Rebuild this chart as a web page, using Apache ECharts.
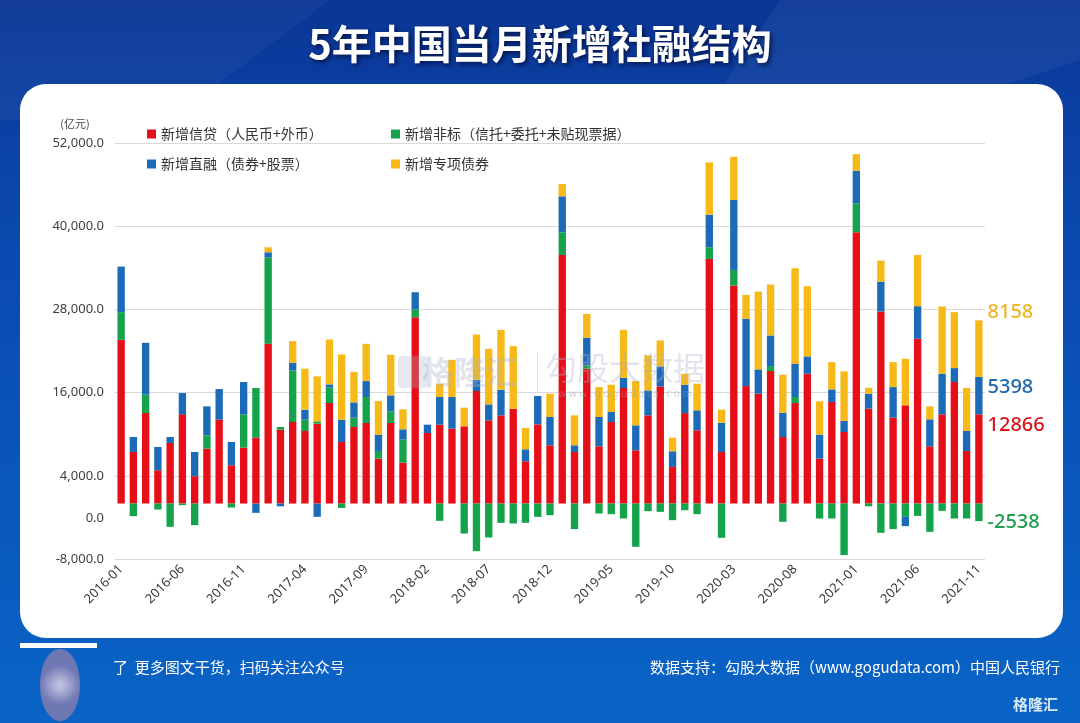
<!DOCTYPE html>
<html>
<head>
<meta charset="utf-8">
<script src="https://cdn.jsdelivr.net/npm/echarts@6/dist/echarts.min.js"></script>
<style>
html,body{margin:0;padding:0;width:1080px;height:723px;overflow:hidden;background:#0a4fb5;}
#chart{width:1080px;height:723px;}
</style>
</head>
<body>
<div id="chart"></div>
<script>
const months = [];
for (let y = 2016; y <= 2021; y++) {
  for (let m = 1; m <= 12; m++) {
    if (y === 2021 && m > 11) break;
    months.push(y + '-' + (m < 10 ? '0' + m : m));
  }
}
const seriesNames = ['新增信贷（人民币+外币）', '新增非标（信托+委托+未贴现票据）', '新增直融（债券+股票）', '新增专项债券'];
const loans = [23616,7440,13056,4800,8736,12864,3936,7920,12096,5520,8064,9504,
  23040,10656,11760,10464,11520,14496,8880,11040,11616,6480,11616,5904,
  26880,10176,11376,10800,11136,16224,12000,12720,13680,6096,11424,8400,
  35856,7440,19440,8256,11760,16656,7680,12720,16896,5280,13046,10560,
  35280,7440,31440,16944,15840,19104,9600,14496,18720,6480,14640,10320,
  39120,13680,27696,12384,14160,23760,8256,12864,17520,7584,12866];
const nonStd = [3984,-1824,2640,-864,-3360,-240,-3120,1920,0,-576,4800,7152,
  12480,384,7440,1632,336,2208,-624,1344,3744,1104,1680,3312,
  1104,0,-2496,0,-4320,-6864,-4896,-2784,-2880,-2784,-1920,-1680,
  3264,-3696,480,-1440,-1536,-2160,-6240,-1104,-1200,-2400,-965,-1536,
  1680,-4944,2256,0,0,720,-2640,864,0,-2160,-2160,-7440,
  4176,-400,-4224,-3696,-1920,-1776,-4080,-1056,-2160,-2160,-2538];
const direct = [6576,2160,7488,3360,864,3072,3504,4176,4416,3360,4656,-1344,
  720,-400,1104,1440,-1920,480,3216,2208,2304,2352,2304,1488,
  2496,1200,3984,4560,0,1632,2304,3696,0,1728,4080,4080,
  5184,960,3984,4224,1440,1488,3600,3600,2880,2256,4090,2880,
  4704,4224,10080,9696,3504,4416,3504,4800,2496,3456,1824,1584,
  4704,2160,4320,4416,-1344,4704,3888,5856,2016,2880,5398];
const special = [0,0,0,0,0,0,0,0,0,0,0,0,
  720,0,3120,5904,6480,6480,9408,4368,5376,4848,5856,2880,
  0,0,1920,5376,2688,6528,8016,8640,9024,3072,0,3360,
  1776,4320,3456,4320,3936,6912,6384,5040,3744,1968,1584,3840,
  7536,1872,6240,3456,11232,7344,5472,13776,10128,4800,3936,7152,
  2400,864,3024,3600,6720,7392,1872,9696,8064,6192,8158];
const yTicks = {min: -8000, max: 52000, interval: 12000};

const colors = ['#e60f17', '#14a24a', '#1b6bb8', '#f7b917'];
const labelColors = ['#d2171d', '#1e9d4c', '#1d67ad', '#f0b326'];
const labelOffsets = [[0, -34], [0, 10], [0, -8], [0, -36]];
const values = [loans, nonStd, direct, special];

const series = values.map((arr, si) => ({
  name: seriesNames[si],
  type: 'bar',
  stack: 'total',
  barWidth: '60%',
  itemStyle: {color: colors[si]},
  data: arr.map((v, i) => i === arr.length - 1 ? {
    value: v,
    label: {
      show: true, position: 'right', distance: 5, offset: labelOffsets[si],
      formatter: '{c}', color: labelColors[si], fontSize: 20,
      fontFamily: 'Noto Sans', fontWeight: 500
    }
  } : v)
}));

const legendPos = [[142, 122], [386, 122], [142, 152], [386, 152]];
const legends = seriesNames.map((n, i) => ({
  data: [n], left: legendPos[i][0], top: legendPos[i][1],
  icon: 'rect', itemWidth: 9, itemHeight: 9, itemGap: 5,
  textStyle: {fontSize: 14, color: '#333', fontFamily: 'Noto Sans CJK SC'},
  selectedMode: false
}));

const chart = echarts.init(document.getElementById('chart'));
chart.setOption({
  backgroundColor: {
    type: 'linear', x: 0, y: 0, x2: 0, y2: 1,
    colorStops: [{offset: 0, color: '#0a3695'}, {offset: 0.3, color: '#0b48ae'}, {offset: 1, color: '#0964c6'}]
  },
  animation: false,
  textStyle: {fontFamily: 'Noto Sans CJK SC'},
  graphic: [
    {type: 'polygon', z: -20, shape: {points: [[0, 0], [330, 0], [170, 120], [0, 120]]}, style: {fill: 'rgba(255,255,255,0.04)'}},
    {type: 'polygon', z: -20, shape: {points: [[780, 0], [1080, 0], [1080, 60], [900, 120], [700, 120]]}, style: {fill: 'rgba(255,255,255,0.05)'}},
    {type: 'rect', z: -10, shape: {x: 20, y: 84, width: 1043, height: 554, r: 26}, style: {fill: '#ffffff'}},
    {type: 'text', left: 'center', top: 24, z: 10, style: {
      text: '5年中国当月新增社融结构', fill: '#ffffff', font: 'bold 40px "Noto Sans CJK SC"',
      textShadowColor: 'rgba(0,0,30,0.7)', textShadowBlur: 5, textShadowOffsetX: 2, textShadowOffsetY: 2}},
    {type: 'text', x: 75, y: 124, style: {text: '(亿元)', fill: '#444', font: '11px "Noto Sans CJK SC"', align: 'center', verticalAlign: 'middle'}},
    {type: 'text', x: 104, y: 518, style: {text: '0.0', fill: '#404040', font: '13px "Noto Sans"', align: 'right', verticalAlign: 'middle'}},
    {type: 'text', x: 470, y: 372, z: 100, style: {text: '格隆汇', fill: 'rgba(170,178,200,0.35)', font: 'bold 32px "Noto Sans CJK SC"', align: 'center', verticalAlign: 'middle'}},
    {type: 'rect', z: 100, shape: {x: 398, y: 356, width: 30, height: 32, r: 4}, style: {fill: 'rgba(170,178,200,0.3)'}},
    {type: 'rect', z: 100, shape: {x: 537, y: 352, width: 1, height: 40}, style: {fill: 'rgba(170,178,200,0.4)'}},
    {type: 'text', x: 625, y: 368, z: 100, style: {text: '勾股大数据', fill: 'rgba(170,178,200,0.35)', font: '32px "Noto Sans CJK SC"', align: 'center', verticalAlign: 'middle'}},
    {type: 'text', x: 625, y: 394, z: 100, style: {text: 'w w w . g o g u d a t a . c o m', fill: 'rgba(150,160,185,0.45)', font: '10px "Noto Sans"', align: 'center', verticalAlign: 'middle'}},
    {type: 'rect', shape: {x: 20, y: 643, width: 77, height: 5}, style: {fill: '#ffffff'}},
    {type: 'ellipse', shape: {cx: 60, cy: 685, rx: 20, ry: 36}, style: {fill: {type: 'radial', x: 0.5, y: 0.5, r: 0.5, colorStops: [{offset: 0, color: '#c8c8e4'}, {offset: 1, color: '#7078b4'}]}}},
    {type: 'text', x: 113, y: 667, style: {text: '了  更多图文干货，扫码关注公众号', fill: '#ffffff', font: '15px "Noto Sans CJK SC"', verticalAlign: 'middle'}},
    {type: 'text', x: 1060, y: 667, style: {text: '数据支持：勾股大数据（www.gogudata.com）中国人民银行', fill: '#ffffff', font: '15px "Noto Sans CJK SC"', align: 'right', verticalAlign: 'middle'}},
    {type: 'text', x: 1058, y: 704, style: {text: '格隆汇', fill: 'rgba(255,255,255,0.85)', font: 'bold 15px "Noto Sans CJK SC"', align: 'right', verticalAlign: 'middle'}}
  ],
  legend: legends,
  grid: {left: 115, right: 95, top: 143, bottom: 164},
  xAxis: {
    type: 'category', data: months,
    axisLine: {show: false}, axisTick: {show: false},
    axisLabel: {interval: 4, rotate: 45, fontSize: 13, color: '#3a3a3a', margin: 8, fontFamily: 'Noto Sans'}
  },
  yAxis: {
    type: 'value', min: yTicks.min, max: yTicks.max, interval: yTicks.interval,
    axisLine: {show: false}, axisTick: {show: false},
    splitLine: {lineStyle: {color: '#d9d9d9', width: 1}},
    axisLabel: {
      fontSize: 13, color: '#404040', margin: 11, fontFamily: 'Noto Sans',
      formatter: v => v.toLocaleString('en-US', {minimumFractionDigits: 1, maximumFractionDigits: 1})
    }
  },
  series: series
});
</script>
</body>
</html>
